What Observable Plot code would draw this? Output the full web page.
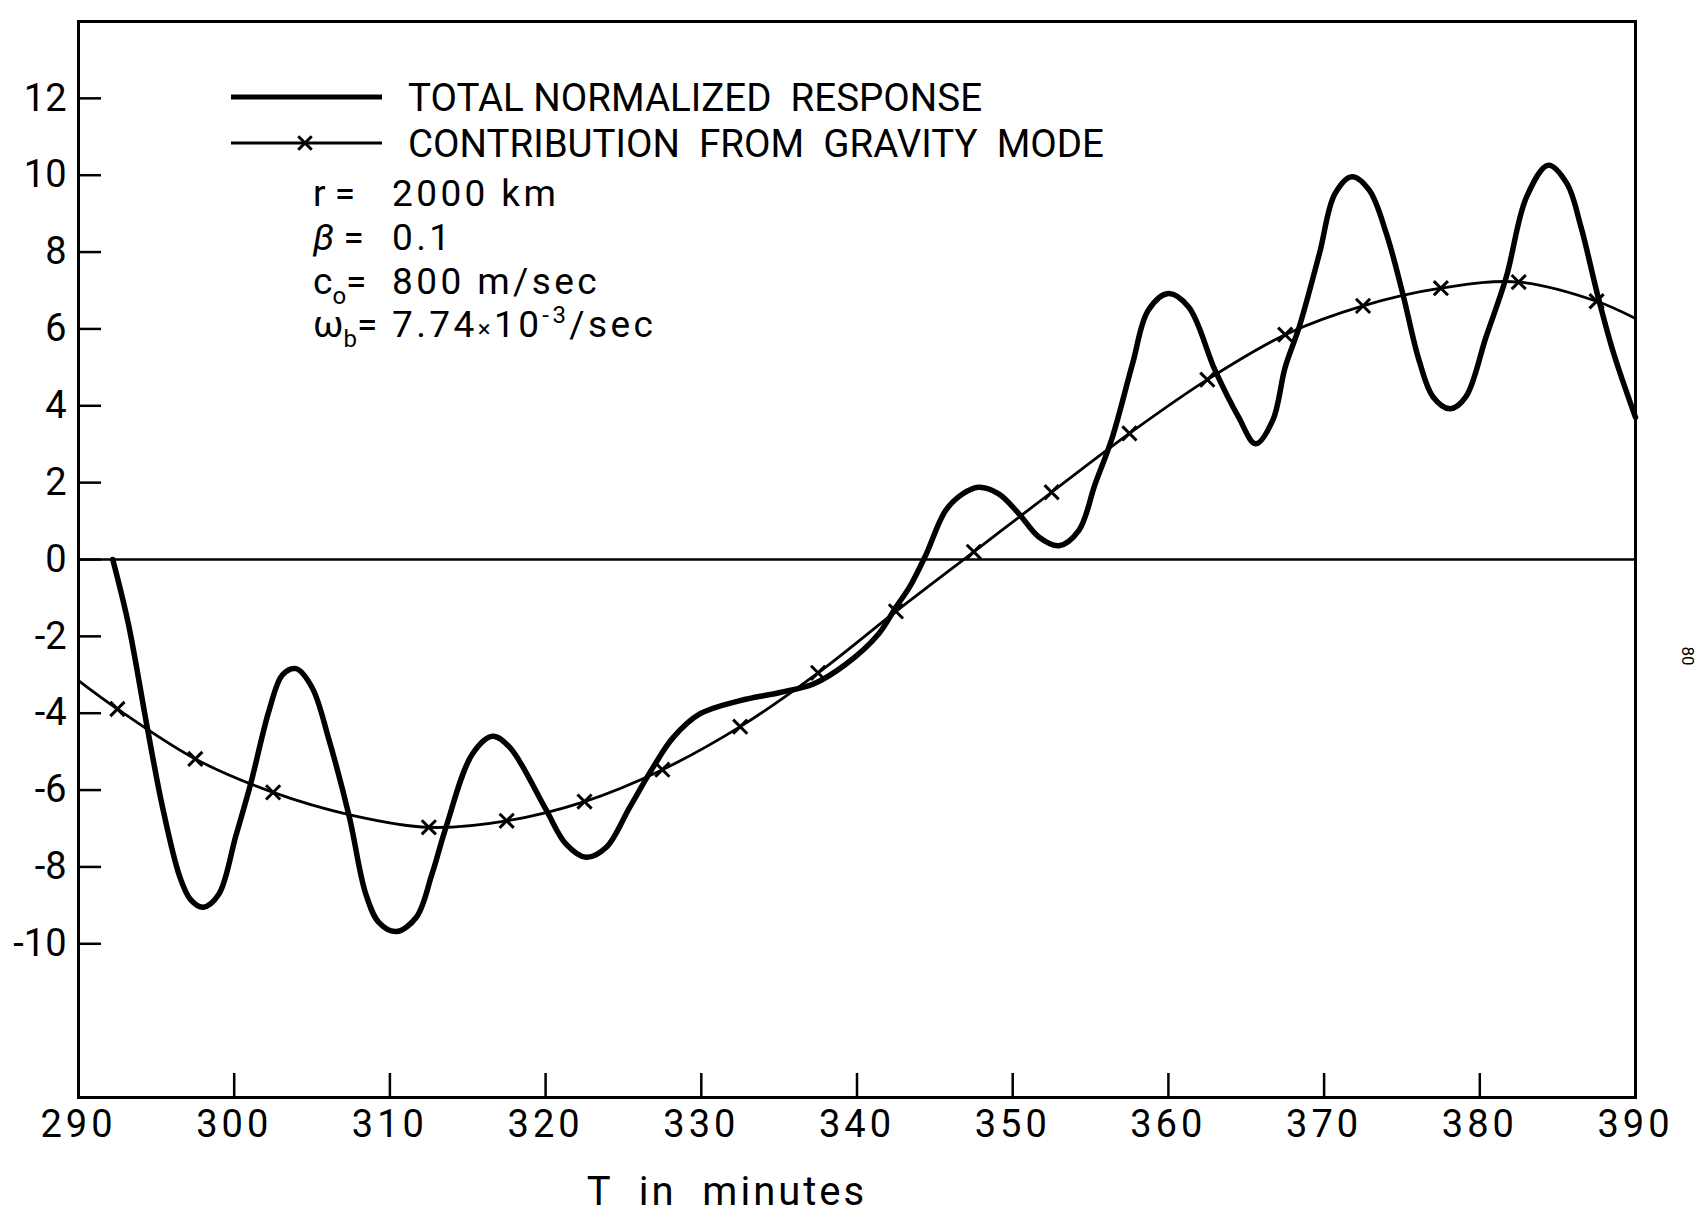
<!DOCTYPE html>
<html>
<head>
<meta charset="utf-8">
<script src="https://cdn.jsdelivr.net/npm/d3@7"></script>
<script src="https://cdn.jsdelivr.net/npm/@observablehq/plot@0.6"></script>
<style>
  body { margin: 0; background: #fff; }
  #chart { width: 1703px; height: 1215px; }
</style>
</head>
<body>
<div id="chart"></div>
<script>
// Total normalized response (thick curve): time T in minutes and response value
const totalT = [292.2, 293.2, 294.45, 295.4, 296.5, 297.2, 298.0, 299.0, 300.1, 301.05, 302.26, 303.1, 303.97,
  305.0, 306.1, 307.4, 308.45, 309.3, 310.4, 311.7, 312.7, 313.6, 315.3, 316.6, 317.7, 320.0, 321.3, 322.6,
  323.9, 325.4, 326.9, 328.2, 329.9, 332.5, 335.05, 337.2, 339.3, 341.4, 342.5, 343.4, 344.4, 345.7,
  346.8, 347.8, 349.1, 350.4, 351.7, 352.97, 354.25, 355.3, 356.4, 357.7, 358.7, 360.0, 361.3, 363.0,
  364.5, 365.6, 366.7, 367.5, 368.4, 369.7, 370.7, 371.8, 372.9, 374.0, 375.05, 376.1, 377.0, 378.1,
  379.1, 380.4, 381.7, 383.0, 384.4, 385.6, 386.5, 387.6, 388.6, 390.0];
const totalV = [0, -1.67, -4.45, -6.45, -8.25, -8.85, -9.05, -8.72, -7.2, -5.85, -3.9, -3.0, -2.84,
  -3.33, -4.71, -6.71, -8.7, -9.45, -9.68, -9.31, -8.19, -6.97, -5.06, -4.6, -4.89, -6.49, -7.4, -7.75,
  -7.49, -6.45, -5.41, -4.63, -4.02, -3.67, -3.46, -3.24, -2.72, -1.93, -1.24, -0.7, 0.1, 1.28,
  1.71, 1.88, 1.71, 1.19, 0.58, 0.36, 0.76, 1.97, 3.18, 5.1, 6.48, 6.92, 6.57, 4.92,
  3.71, 3.01, 3.62, 5.0, 6.05, 7.96, 9.52, 9.96, 9.61, 8.48, 6.92, 5.18, 4.23, 3.92,
  4.23, 5.79, 7.35, 9.43, 10.26, 9.78, 8.65, 6.83, 5.36, 3.7];

// Contribution from the gravity mode (thin curve), sampled every 5 minutes
const gravityT = [290, 292.5, 297.5, 302.5, 307.5, 312.5, 317.5, 322.5, 327.5, 332.5, 337.5,
  342.5, 347.5, 352.5, 357.5, 362.5, 367.5, 372.5, 377.5, 382.5, 387.5, 390];
const gravityV = [-3.15, -3.89, -5.19, -6.06, -6.65, -6.97, -6.8, -6.3, -5.47, -4.35, -2.95,
  -1.35, 0.2, 1.75, 3.28, 4.68, 5.85, 6.6, 7.06, 7.22, 6.72, 6.27];
// Samples of the gravity curve that carry an "x" marker
const markedT = [292.5, 297.5, 302.5, 312.5, 317.5, 322.5, 327.5, 332.5, 337.5, 342.5, 347.5,
  352.5, 357.5, 362.5, 367.5, 372.5, 377.5, 382.5, 387.5];

// Axis ticks
const xTicks = [290, 300, 310, 320, 330, 340, 350, 360, 370, 380, 390];
const yTicks = [-10, -8, -6, -4, -2, 0, 2, 4, 6, 8, 10, 12];
const xLabel = "T  in  minutes";
const pageNumber = "80";

// Key and model parameters
const legendLabels = ["TOTAL NORMALIZED  RESPONSE", "CONTRIBUTION  FROM  GRAVITY  MODE"];
const paramSymbols = ["r", "β", "c", "ω"];
const paramSubscripts = ["", "", "o", "b"];
const paramValues = [
  [["2000 km"]],
  [["0.1"]],
  [["800 m/sec"]],
  [["7.74"], ["×", "small"], ["10"], ["-3", "sup"], ["/sec", "afterSup"]]
];

const FONT = "Roboto, 'Noto Sans', sans-serif";

const total = totalT.map((t, i) => ({t, v: totalV[i]}));
const gravity = gravityT.map((t, i) => ({t, v: gravityV[i]}));
const markers = gravity.filter(d => markedT.includes(d.t));

// Key, parameter block, axis title and page number, drawn in frame pixels
function annotations(index, scales, values, dims) {
  const g = d3.create("svg:g")
    .attr("font-family", FONT).attr("fill", "black").attr("text-anchor", "start");

  const keyX1 = 231, keyX2 = 382, keyTextX = 408, keyY0 = 97, keyDy = 46;
  legendLabels.forEach((label, i) => {
    const y = keyY0 + i * keyDy;
    g.append("line")
      .attr("x1", keyX1).attr("x2", keyX2).attr("y1", y).attr("y2", y)
      .attr("stroke", "black").attr("stroke-width", i === 0 ? 5 : 3);
    if (i === 1) {
      g.append("path")
        .attr("d", d3.symbol(d3.symbolTimes, 120)())
        .attr("transform", `translate(305,${y})`)
        .attr("stroke", "black").attr("stroke-width", 3).attr("fill", "none");
    }
    g.append("text")
      .attr("x", keyTextX).attr("y", y).attr("dy", "0.36em")
      .attr("font-size", 38.5)
      .style("white-space", "pre")
      .text(label);
  });

  const symX = 313, valX = 392, rowY0 = 193, rowDy = 43.7;
  paramSymbols.forEach((sym, i) => {
    const y = rowY0 + i * rowDy;
    const t = g.append("text").attr("x", symX).attr("y", y).attr("dy", "0.36em")
      .attr("font-size", 37).style("white-space", "pre");
    t.append("tspan").text(sym).attr("font-style", sym === "β" ? "italic" : null);
    if (paramSubscripts[i]) {
      t.append("tspan").attr("font-size", 24).attr("dy", 10).text(paramSubscripts[i]);
      t.append("tspan").attr("dy", -10).text("=");
    } else {
      t.append("tspan").text(" =");
    }
    const v = g.append("text").attr("x", valX).attr("y", y).attr("dy", "0.36em")
      .attr("font-size", 37).attr("letter-spacing", 3.4).style("white-space", "pre");
    paramValues[i].forEach(([txt, kind]) => {
      const s = v.append("tspan").text(txt);
      if (kind === "small") s.attr("font-size", 24);
      else if (kind === "sup") s.attr("font-size", 24).attr("dy", -14);
      else if (kind === "afterSup") s.attr("dy", 14);
    });
  });

  g.append("text")
    .attr("x", 727).attr("y", 1191).attr("dy", "0.36em")
    .attr("text-anchor", "middle").attr("font-size", 40).attr("letter-spacing", 3)
    .style("white-space", "pre")
    .text(xLabel);

  g.append("text")
    .attr("transform", "translate(1682,656) rotate(90)")
    .attr("text-anchor", "middle").attr("font-size", 17)
    .text(pageNumber);

  return g.node();
}

const chart = Plot.plot({
  width: 1703,
  height: 1215,
  marginLeft: 78,
  marginRight: 68,
  marginTop: 21,
  marginBottom: 118,
  style: {fontFamily: FONT, background: "white", color: "black"},
  x: {domain: [290, 390]},
  y: {domain: [-14, 14]},
  marks: [
    Plot.ruleY([0], {stroke: "black", strokeWidth: 2.5}),
    Plot.line(gravity, {x: "t", y: "v", stroke: "black", strokeWidth: 2.8, curve: "catmull-rom"}),
    Plot.dot(markers, {x: "t", y: "v", symbol: "times", r: 6.5, stroke: "black", strokeWidth: 3}),
    Plot.line(total, {x: "t", y: "v", stroke: "black", strokeWidth: 5.5, curve: "catmull-rom"}),
    Plot.frame({stroke: "black", strokeWidth: 3}),
    Plot.axisY(yTicks, {tickSize: -23, tickPadding: 35, fontSize: 38, strokeWidth: 2.5,
      tickFormat: d => String(d), label: null}),
    Plot.axisX(xTicks, {tickSize: -24, tickPadding: 37, fontSize: 38, strokeWidth: 2.5,
      tickFormat: d => String(d), label: null}),
    annotations
  ]
});

// Wider spacing for the hand-lettered look of the time labels
d3.select(chart).selectAll("g[aria-label='x-axis tick label'] text").attr("letter-spacing", 4);

document.getElementById("chart").append(chart);
</script>
</body>
</html>
